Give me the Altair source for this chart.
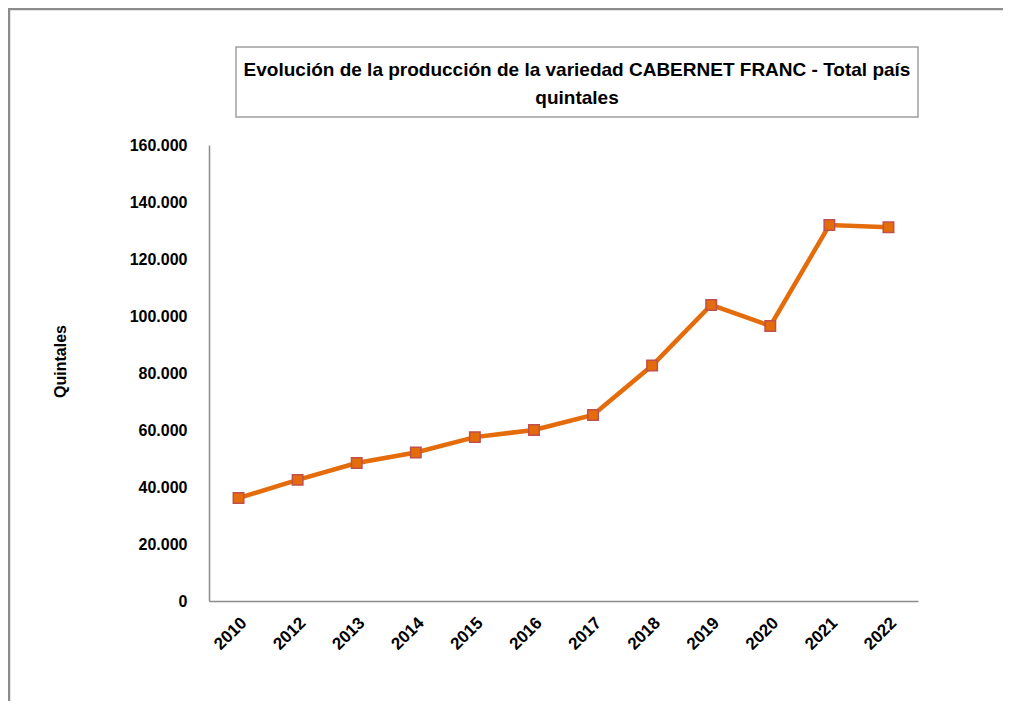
import altair as alt
import pandas as pd

years = ["2010", "2012", "2013", "2014", "2015", "2016", "2017", "2018", "2019", "2020", "2021", "2022"]
quintales = [36100, 42500, 48400, 52100, 57500, 60000, 65300, 82600, 103900, 96500, 131900, 131100]
y_ticks = [0, 20000, 40000, 60000, 80000, 100000, 120000, 140000, 160000]
title_lines = ["Evolución de la producción  de la variedad CABERNET FRANC - Total país", "quintales"]

df = pd.DataFrame({"year": years, "q": quintales})

W, H = 709, 456
FONT = "Liberation Sans"

x_enc = alt.X("year:N", sort=years, title=None,
              scale=alt.Scale(type="point", padding=0.5),
              axis=alt.Axis(labelAngle=-45, labelAlign="right", labelBaseline="middle",
                            labelFont=FONT, labelFontSize=17, labelFontWeight="bold",
                            labelColor="#000000", labelPadding=19, labelOffset=5, ticks=False,
                            domainColor="#8c8c8c", domainWidth=1.5, grid=False, zindex=1))
y_enc = alt.Y("q:Q", title="Quintales",
              scale=alt.Scale(domain=[0, 160000], nice=False),
              axis=alt.Axis(values=y_ticks, ticks=False, grid=False,
                            labelExpr="replace(format(datum.value, ','), ',', '.')",
                            labelFont=FONT, labelFontSize=16, labelFontWeight="bold",
                            labelColor="#000000", labelPadding=22,
                            domainColor="#8c8c8c", domainWidth=1.5,
                            titleFont=FONT, titleFontSize=16, titleFontWeight="bold",
                            titleColor="#000000", titleAngle=270,
                            titleX=-149, titleY=216, titleAlign="center",
                            titleBaseline="middle", zindex=1))

line = alt.Chart(df).mark_line(color="#E46C0A", strokeWidth=4.5).encode(x=x_enc, y=y_enc)
pts = alt.Chart(df).mark_point(shape="square", filled=True, size=110, fill="#E46C0A",
                               stroke="#C0504D", strokeWidth=1.5, opacity=1).encode(x=x_enc, y=y_enc)

frame_df = pd.DataFrame({"k": [0]})
frame = alt.Chart(frame_df).mark_rect(fillOpacity=0, stroke="#8c8c8c", strokeWidth=2.5,
                                      clip=False).encode(
    x=alt.value(-200), x2=alt.value(900), y=alt.value(-136), y2=alt.value(700))
title_box = alt.Chart(frame_df).mark_rect(fill="white", stroke="#a0a0a0", strokeWidth=1.5,
                                          clip=False).encode(
    x=alt.value(27), x2=alt.value(709), y=alt.value(-98), y2=alt.value(-28))
t1 = alt.Chart(frame_df).mark_text(text=title_lines[0], font=FONT,
                                   fontSize=19, fontWeight="bold", color="#000000",
                                   align="center", baseline="middle").encode(
    x=alt.value(368), y=alt.value(-75))
t2 = alt.Chart(frame_df).mark_text(text=title_lines[1], font=FONT,
                                   fontSize=19, fontWeight="bold", color="#000000",
                                   align="center", baseline="middle").encode(
    x=alt.value(368), y=alt.value(-47))

chart = alt.layer(frame, title_box, t1, t2, line, pts).properties(
    width=W, height=H,
    background="white",
    autosize=alt.AutoSizeParams(type="none"),
    padding={"left": 201, "top": 137, "right": 85, "bottom": 100},
).configure_view(stroke=None, strokeWidth=0)

chart.save("out.html", embed_options={"renderer": "svg", "actions": False})
